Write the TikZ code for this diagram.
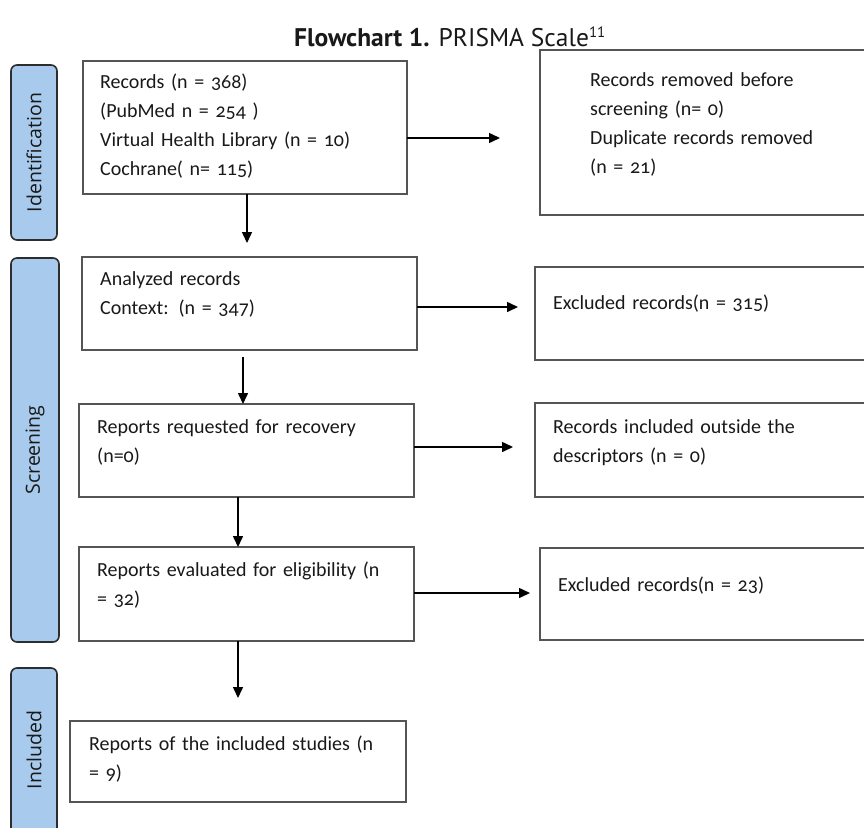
\documentclass[tikz,border=0pt]{standalone}
\usepackage{fontspec}
\setmainfont{Carlito}[Numbers=OldStyle]
\newfontfamily\titlefont{PT Sans}
\newfontfamily\tabfont{Open Sans}
\usetikzlibrary{arrows.meta}
\definecolor{tabblue}{RGB}{168,202,236}
\definecolor{tabline}{RGB}{45,45,45}
\definecolor{boxline}{RGB}{85,85,85}
\definecolor{txtcol}{RGB}{25,25,25}
\begin{document}
\begin{tikzpicture}[x=1pt,y=-1pt,
  tabbox/.style={draw=tabline, fill=tabblue, line width=1.6pt, rounded corners=6pt,
    rectangle, inner sep=0pt, outer sep=0pt},
  tablabel/.style={rotate=90, font=\tabfont\fontsize{19.5}{22}\selectfont, text=txtcol, inner sep=0pt},
  flowbox/.style={draw=boxline, line width=1.5pt, rectangle, inner sep=0pt, outer sep=0pt},
  boxtext/.style={anchor=base west, inner sep=0pt, text width=340pt, align=left,
    font=\fontsize{20}{29}\selectfont, text=txtcol},
  arr/.style={draw=black, line width=1.5pt, -{Triangle[length=11pt,width=10pt]}}
]
\useasboundingbox (0,0) rectangle (864,827);
\clip (0,0) rectangle (864,827);
\fill[white] (0,0) rectangle (864,827);

% title
\node[font=\titlefont\fontsize{25.5}{30}\selectfont, text=txtcol] (title) at (450,37)
  {\textbf{Flowchart 1.} PRISMA Scale\textsuperscript{\fontsize{15}{15}\selectfont 11}};

% stage tabs
\node[tabbox, minimum width=46pt, minimum height=175pt] (tabid) at (34,152.5) {};
\node[tablabel] (lblid) at (tabid.center) {Identification};
\node[tabbox, minimum width=48pt, minimum height=384pt] (tabscr) at (35,450) {};
\node[tablabel] (lblscr) at (tabscr.center) {Screening};
\node[tabbox, minimum width=46pt, minimum height=166pt] (tabinc) at (34,751) {};
\node[tablabel] (lblinc) at (34,750) {Included};

% boxes
\node[flowbox, minimum width=324pt, minimum height=133pt] (b1) at (245,127.5) {};
\node[flowbox, minimum width=340pt, minimum height=165pt] (b2) at (710,132.5) {};
\node[flowbox, minimum width=335pt, minimum height=93pt] (b3) at (249.5,303.5) {};
\node[flowbox, minimum width=345pt, minimum height=93pt] (b4) at (707.5,313.5) {};
\node[flowbox, minimum width=335pt, minimum height=93pt] (b5) at (246.5,450.5) {};
\node[flowbox, minimum width=345pt, minimum height=94pt] (b6) at (707.5,450) {};
\node[flowbox, minimum width=335pt, minimum height=94pt] (b7) at (246.5,594) {};
\node[flowbox, minimum width=340pt, minimum height=92pt] (b8) at (710,594) {};
\node[flowbox, minimum width=336pt, minimum height=81pt] (b9) at (238,761.5) {};

% texts
\node[boxtext] (t1) at (100,88) {Records (n = 368)\\(PubMed n = 254 )\\Virtual Health Library (n = 10)\\Cochrane( n= 115)};
\node[boxtext] (t2) at (590,86) {Records removed before\\screening (n= 0)\\Duplicate records removed\\(n = 21)};
\node[boxtext] (t3) at (100,285) {Analyzed records\\Context: (n = 347)};
\node[boxtext] (t4) at (553,309) {Excluded records(n = 315)};
\node[boxtext] (t5) at (97,433) {Reports requested for recovery\\(n=0)};
\node[boxtext] (t6) at (553,433) {Records included outside the\\descriptors (n = 0)};
\node[boxtext] (t7) at (97,576) {Reports evaluated for eligibility (n\\= 32)};
\node[boxtext] (t8) at (558,591) {Excluded records(n = 23)};
\node[boxtext] (t9) at (89,750) {Reports of the included studies (n\\= 9)};

% arrow ends
\coordinate (e12) at (500,138);
\coordinate (e13) at (247,243);
\coordinate (e34) at (518,307);
\coordinate (s35) at (243,357);
\coordinate (e35) at (243,404);
\coordinate (e56) at (513,447);
\coordinate (e57) at (238,547);
\coordinate (e78) at (530,593);
\coordinate (e79) at (238,698);

\draw[arr] (b1.east |- e12) -- (e12);
\draw[arr] (b1.south -| e13) -- (e13);
\draw[arr] (b3.east |- e34) -- (e34);
\draw[arr] (s35) -- (e35);
\draw[arr] (b5.east |- e56) -- (e56);
\draw[arr] (b5.south -| e57) -- (e57);
\draw[arr] (b7.east |- e78) -- (e78);
\draw[arr] (b7.south -| e79) -- (e79);
\end{tikzpicture}
\end{document}
